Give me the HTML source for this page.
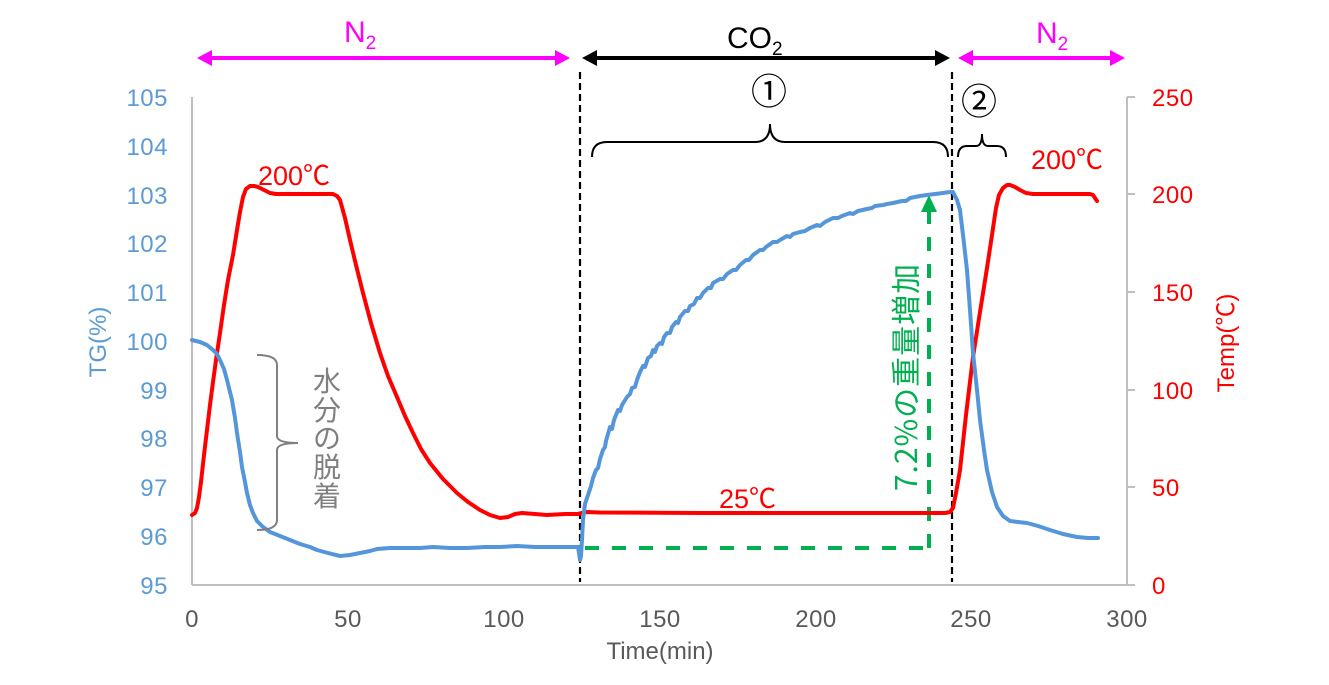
<!DOCTYPE html>
<html>
<head>
<meta charset="utf-8">
<style>
html,body{margin:0;padding:0;background:#fff;}
svg{display:block;}
text{font-family:"Liberation Sans","Noto Sans CJK JP",sans-serif;}
.cjk{font-family:"Noto Sans CJK JP","Liberation Sans",sans-serif;}
</style>
</head>
<body>
<svg width="1329" height="685" viewBox="0 0 1329 685" xmlns="http://www.w3.org/2000/svg">
<rect width="1329" height="685" fill="#fff"/>

<!-- axes -->
<g stroke="#BFBFBF" stroke-width="2" fill="none">
<line x1="192" y1="97" x2="192" y2="585"/>
<line x1="192" y1="585" x2="1135" y2="585"/>
<line x1="1127" y1="97" x2="1127" y2="585"/>
<line x1="1127" y1="97" x2="1135" y2="97"/>
<line x1="1127" y1="194" x2="1135" y2="194"/>
<line x1="1127" y1="292" x2="1135" y2="292"/>
<line x1="1127" y1="390" x2="1135" y2="390"/>
<line x1="1127" y1="487" x2="1135" y2="487"/>
</g>

<!-- left tick labels -->
<g fill="#5B9BD5" font-size="24" text-anchor="end" letter-spacing="0.5">
<text x="168" y="106">105</text>
<text x="168" y="155">104</text>
<text x="168" y="204">103</text>
<text x="168" y="252">102</text>
<text x="168" y="301">101</text>
<text x="168" y="350">100</text>
<text x="168" y="399">99</text>
<text x="168" y="447">98</text>
<text x="168" y="496">97</text>
<text x="168" y="545">96</text>
<text x="168" y="594">95</text>
</g>
<text x="0" y="0" fill="#5B9BD5" font-size="24" text-anchor="middle" transform="translate(106,342) rotate(-90)">TG(%)</text>

<!-- right tick labels -->
<g fill="#FF0000" font-size="24" letter-spacing="0.5">
<text x="1152" y="106">250</text>
<text x="1152" y="203">200</text>
<text x="1152" y="301">150</text>
<text x="1152" y="399">100</text>
<text x="1152" y="496">50</text>
<text x="1152" y="594">0</text>
</g>
<text x="0" y="0" fill="#FF0000" font-size="24" text-anchor="middle" transform="translate(1234,343) rotate(-90)">Temp(℃)</text>

<!-- x tick labels -->
<g fill="#595959" font-size="24" text-anchor="middle" letter-spacing="0.5">
<text x="192" y="627">0</text>
<text x="348" y="627">50</text>
<text x="504" y="627">100</text>
<text x="660" y="627">150</text>
<text x="816" y="627">200</text>
<text x="971" y="627">250</text>
<text x="1127" y="627">300</text>
</g>
<text x="660" y="659" fill="#595959" font-size="24" text-anchor="middle">Time(min)</text>

<!-- dashed black verticals -->
<g stroke="#000" stroke-width="2.2" stroke-dasharray="7,4">
<line x1="580" y1="72" x2="580" y2="582"/>
<line x1="952" y1="72" x2="952" y2="582"/>
</g>

<!-- green arrow -->
<g stroke="#00B050" stroke-width="4" fill="none" stroke-dasharray="14,13">
<polyline points="585,548 929,548"/>
<line x1="929" y1="548" x2="929" y2="210"/>
</g>
<polygon points="921,212 937,212 929,195" fill="#00B050"/>
<text x="0" y="0" class="cjk" fill="#00B050" font-size="30" text-anchor="middle" dominant-baseline="central" transform="translate(904,377) rotate(-90)" letter-spacing="1">7.2%の重量増加</text>

<!-- red temperature -->
<polyline fill="none" stroke="#FF0000" stroke-width="4" stroke-linejoin="round" stroke-linecap="round" points="
192,515 195,513 197,508 199,497 201,482 204,455 207,430 210,405 213,382 216,360 220,333 224,305 228,280 233,255 237,230 240,212 243,197 246,189 250,186 254,186 258,187 264,190 270,193 276,194 290,194 310,194 333,194 337,196 340,200 345,218 350,240 356,265 363,293 371,323 380,353 388,376 397,397 405,416 413,433 421,449 430,463 443,479 457,493 468,502 480,510 490,515 500,518 508,517 515,514 522,513 535,514 547,515 565,514 578,514 582,513 586,512 600,512.5 700,513 800,513 900,513 945,513 950,512 953,508 956,493 960,470 966,415 973,357 980,312 987,268 992,235 996,208 999,195 1003,188 1007,185 1010,185 1015,187 1020,190 1026,193 1033,194 1060,194 1090,194 1093,195 1095,198 1097,201"/>

<!-- blue TG -->
<polyline fill="none" stroke="#5596DB" stroke-width="4" stroke-linejoin="round" stroke-linecap="round" points="
192,340 200,342 207,345 213,350 217,354 220,360 224,369 227,380 230,392 232,400 235,418 237,433 240,452 242,467 245,482 247,493 250,505 253,513 257,521 263,527 270,532 280,536 290,540 300,544 310,547 317,550 328,553 340,556 350,555 360,553 370,551 377,549 390,548 400,548 420,548 433,547 450,548 467,548 485,547 500,547 517,546 535,547 550,547 565,547 578,547 579,553 580,560 581,556 582,540 583,520 585,504 588,495 591,486 593,478 596,470 598,468 600,459 603,450 605,447 606,441 610,427 612,429 614,420 618,410 620,411 622,405 627,397 630,394 632,388 635,387 637,380 640,372 643,366 645,367 648,358 651,356 653,350 655,352 657,346 660,343 662,344 664,337 667,333 670,333 672,327 676,322 678,323 680,317 685,311 688,311 690,306 694,304 697,298 700,298 703,293 708,288 711,288 713,283 720,279 723,279 727,274 733,270 736,270 740,265 746,260 749,260 753,255 760,250 763,250 766,247 773,242 777,242 780,240 787,236 790,237 793,234 800,232 805,231 810,228 817,225 820,226 825,222 833,218 838,218 842,216 850,213 853,214 858,211 867,209 872,208 875,206 883,205 887,204 893,203 902,201 906,201 910,198 920,196 927,195 935,194 943,193 950,192 953,192 957,200 960,210 963,235 967,270 970,310 973,353 977,390 980,420 984,450 987,470 992,492 997,507 1003,516 1010,521 1018,522 1027,523 1038,526 1050,530 1063,534 1077,537 1088,538 1098,538"/>

<!-- gray bracket & text -->
<path d="M257,355 Q277,355 277,365 L277,436 Q277,443 298,443 Q277,443 277,450 L277,520 Q277,530 257,530" fill="none" stroke="#808080" stroke-width="2"/>
<g class="cjk" fill="#808080" font-size="28" text-anchor="middle">
<text x="327" y="391">水</text>
<text x="327" y="420">分</text>
<text x="327" y="448">の</text>
<text x="327" y="477">脱</text>
<text x="327" y="506">着</text>
</g>

<!-- red labels -->
<g fill="#FF0000" font-size="27">
<text x="258" y="185">200℃</text>
<text x="1031" y="169">200℃</text>
<text x="719" y="508">25℃</text>
</g>

<!-- top arrows -->
<g stroke="#FF00FF" stroke-width="4">
<line x1="210" y1="58" x2="556" y2="58"/>
<line x1="972" y1="58" x2="1110" y2="58"/>
</g>
<g fill="#FF00FF">
<polygon points="197,58 212,50 212,66"/>
<polygon points="570,58 555,50 555,66"/>
<polygon points="958,58 973,50 973,66"/>
<polygon points="1125,58 1110,50 1110,66"/>
</g>
<line x1="595" y1="58" x2="936" y2="58" stroke="#000" stroke-width="4"/>
<polygon points="582,58 597,50 597,66" fill="#000"/>
<polygon points="950,58 935,50 935,66" fill="#000"/>

<text x="344" y="42" fill="#FF00FF" font-size="30">N<tspan font-size="19" dy="7">2</tspan></text>
<text x="1036" y="43" fill="#FF00FF" font-size="30">N<tspan font-size="19" dy="7">2</tspan></text>
<text x="727" y="48" fill="#000" font-size="30">CO<tspan font-size="19" dy="7">2</tspan></text>

<!-- circled numbers and braces -->
<text x="769" y="104" class="cjk" fill="#000" font-size="36" text-anchor="middle">①</text>
<text x="979" y="114" class="cjk" fill="#000" font-size="36" text-anchor="middle">②</text>
<path d="M592,157 Q592,142 607,142 L755,142 Q770,142 770,124 Q770,142 785,142 L933,142 Q948,142 948,157" fill="none" stroke="#000" stroke-width="2"/>
<path d="M958,157 Q958,146 967,146 L976,146 Q982,146 982,134 Q982,146 988,146 L997,146 Q1006,146 1006,157" fill="none" stroke="#000" stroke-width="2"/>
</svg>
</body>
</html>
